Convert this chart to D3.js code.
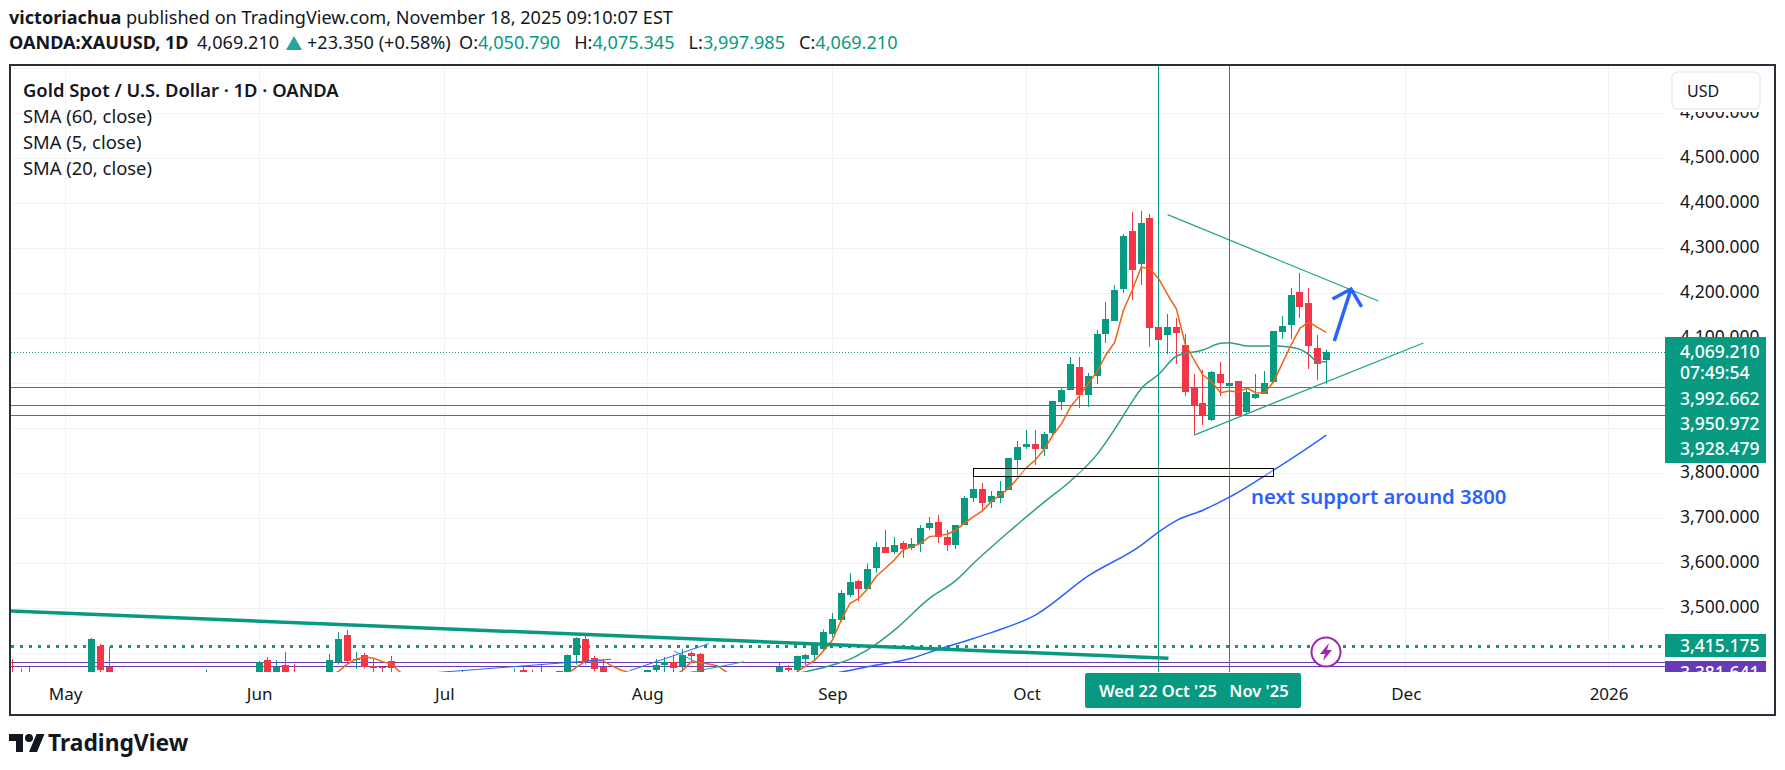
<!DOCTYPE html>
<html>
<head>
<meta charset="utf-8">
<title>XAUUSD</title>
<script src="https://d3js.org/d3.v7.min.js"></script>
<style>
  html, body { margin: 0; background: #fff; }
  svg { display: block; }
  text { font-family: "Noto Sans", sans-serif; fill: #131722; }
</style>
</head>
<body>
<svg id="chart" width="1785" height="770"></svg>
<script>
"use strict";

// Daily bars, numbered from the first bar in the frame. Lows and bodies under the pane are estimates.
const barNos = [0,1,2,9,10,11,22,28,29,30,31,32,36,37,38,39,40,41,42,43,51,57,58,59,60,62,63,64,65,66,67,
  72,73,74,75,76,77,78,87,88,89,90,91,92,93,94,95,96,97,98,99,100,101,102,103,104,105,106,107,108,109,110,
  111,112,113,114,115,116,117,118,119,120,121,122,123,124,125,126,127,128,129,130,131,132,133,134,135,136,
  137,138,139,140,141,142,143,144,145,146,147,148,149];
const opens = [3355,3330,3352,3345,3416.2,3369.6,3335,3340,3385.1,3345,3374,3350,3345,3380.7,3440.7,3385,3396.2,3372,3369.6,3383,3345,3335,3362,3350,3335,3340,3345,3397,3431.7,3389,3370,
  3345,3362,3374,3381.5,3371.5,3400.8,3399.3,3345,3366.6,3363,3387,3396,3409,3443,3474,3529.5,3560.6,3542.9,3589.6,3636.3,3625.2,3645.2,3634,3643,3678.5,3691.9,3658.5,3640.8,3685.2,3745.2,
  3765.1,3736.3,3745.1,3762.9,3829.6,3858.5,3865.1,3854,3889.6,3958.5,3985.1,4036.2,3974,4016.2,4109.6,4138.5,4209.6,4338.5,4265.1,4367.3,4125.1,4107.4,4125.1,4085.1,3989.6,3956.2,3918.5,4020.7,
  3994,4005.1,3936.2,3967.3,3976.2,4002.9,4114,4129.6,4202.9,4178.5,4078.5,4050.79];
const highs = [3387,3366,3370,3434,3420.7,3414,3364,3383,3391.8,3385.1,3402.9,3376,3398.5,3447.3,3451.8,3402.9,3400.7,3387,3371,3394,3362,3366,3374,3364,3376,3361,3397.5,3435.6,3441,3394.7,3385.4,
  3363,3387,3391.6,3397,3410,3404.7,3400.8,3379,3374,3395,3398.4,3422,3453,3489.5,3540.6,3578.4,3562.9,3599.9,3647.4,3674,3658.6,3649.6,3656.3,3685.2,3703,3707.4,3674,3685.2,3749.6,3792.6,
  3778.5,3760.7,3782.9,3834,3871.8,3896.3,3896.3,3891.8,3960.7,3989.6,4058.4,4058.4,4022.9,4118.5,4180.7,4218.5,4331.8,4380.7,4382.9,4376.2,4125.1,4154,4145.1,4109.6,4020.7,4029.6,4027.3,4047.3,
  4003,4005.1,3989.6,4020.7,4027.3,4116.2,4149.6,4211.8,4245.1,4211.8,4107.4,4075.345];
const lows = [3330,3320,3320,3340,3350,3330,3325,3335,3340,3340,3340,3330,3340,3375,3378,3365,3366,3356,3358,3350,3335,3330,3335,3335,3330,3335,3340,3375,3375,3360,3340,
  3340,3358,3358,3358,3360,3380,3340,3340,3359,3356,3374,3386.6,3406,3435.5,3469.5,3525,3516.2,3542.9,3579.3,3623,3620.8,3611.9,3629.6,3625.2,3674,3645.2,3627.4,3631.9,3685.2,3736.3,
  3716.3,3722.9,3734,3762.9,3792.6,3854,3818.5,3838.5,3885.1,3940.7,3985.1,3945.1,3947.4,3998.5,4089.6,4138.5,4200.7,4185.1,4218.5,4080.7,4096,4065.1,4043,3971.8,3885,3907.4,3916.2,3971.8,
  3990,3929.6,3931.8,3965.1,3976.2,4002.9,4098.5,4098.5,4145.1,4031.8,4007.3,3997.985];
const closes = [3340,3352,3335,3431.8,3362,3340,3350,3380.7,3345,3369.6,3345,3340,3385,3431.8,3382.9,3387,3369.6,3368,3367.4,3367.4,3340,3350,3340,3340,3352,3360,3397,3434,3384,3364.6,3345,
  3362,3374,3380,3367.7,3397,3394.7,3345,3370.3,3364,3394,3396,3420.6,3447.3,3476,3534,3558.4,3542.9,3587.3,3636.3,3623,3640.8,3631.9,3643,3678.5,3689.6,3659.3,3640.8,3685.2,3745.2,3765.1,
  3734,3749.6,3760.7,3834,3858.5,3865.1,3854,3887.4,3960.7,3985.1,4042.9,3974,4016.2,4109.6,4142.9,4207.3,4327.3,4251.8,4356.2,4122.9,4096.2,4125.1,4111.8,3980.7,3951.8,3929.6,4025.1,4000.7,
  4000.7,3929.6,3980.7,3976.2,4000.7,4116.2,4127.3,4196.2,4169.6,4082.9,4042.9,4069.21];

// Moving averages at these bars
const sma5Bars = [36,37,38,39,40,41,42,43,44,45,63,64,65,66,67,68,69,70,71,75,76,77,78,79,80,81,82,88,89,90,91,92,93,94,95,96,97,98,99,100,101,102,103,104,105,106,107,108,109,110,111,112,113,114,115,116,117,118,119,120,121,122,123,124,125,126,127,128,129,130,131,132,133,134,135,136,137,138,139,140,141,142,143,144,145,146,147,148,149];
const sma5 = [3350,3360,3376,3387,3391.6,3389,3381.5,3376,3358,3345,3355,3370,3382,3385,3383,3372,3363,3357,3345,3350,3362,3381,3379,3376,3372,3358,3345,3345,3359,3371.8,3385,3405.8,3429.5,3474,3511,3522,3544,3571.9,3588.9,3607.4,3629.6,3637,3644.4,3659.3,3661.5,3664.5,3674,3690,3703.7,3716.3,3737,3751.8,3766.6,3788.8,3812.6,3829.6,3853.3,3885.1,3911,3948.1,3972,3999,4026,4062.9,4091,4162.9,4207.3,4257.7,4254.8,4232,4197,4165,4087,4051.8,4018.5,4003.6,3979.2,3982.9,3980.7,3989.6,3979.2,3978.5,4002.9,4044.4,4085.1,4122.2,4136.2,4124.4,4113.3];
const sma20Bars = [89,93,95,97,100,104,107,109,113,117,120,123,125,127,128,130,132,135,137,138,140,143,145,146,147,148,149];
const sma20 = [3355,3374,3387,3408,3451,3522,3562,3600,3670,3736,3783,3842,3898,3960,3988,4020,4060,4074,4088.8,4090.3,4082.9,4082.9,4080,4075.5,4064.4,4048,4048];
const sma60Bars = [91,93,98,102,105,109,111,116,122,128,130,132,135,138,143,146,149];
const sma60 = [3350,3355,3374,3389,3409,3433,3446,3485,3572,3640,3670,3695,3718,3747,3807,3845,3885];

// Right scale
const priceTicks = [3400,3500,3600,3700,3800,3900,4000,4100,4200,4300,4400,4500,4600,4700];
const priceLabelTicks = [3500,3600,3700,3800,4100,4200,4300,4400,4500,4600];
const levelPrices = [3992.662, 3950.972, 3928.479];
const levelLabels = ["3,992.662", "3,950.972", "3,928.479"];
const lastPrice = 4069.21;
const alertPrice = 3415.175;
const purplePrices = [3381.641, 3372.5];

// Time axis
const monthBars = [6,28,49,72,93,115,158,181];
const monthLabels = ["May","Jun","Jul","Aug","Sep","Oct","Dec","2026"];
const crossBars = [130, 138];

// Drawings, as [bar, price] ends
const bigTrend = [[-0.25,3494],[131.1,3388.9]];
const wedgeTop = [[131,4374.7],[154.9,4182.9]];
const wedgeBottom = [[134,3885],[160,4089.6]];
const arrowStem = [[149.9,4094],[151.8,4209.6]];
const arrowHead = [[149.7,4187.3],[151.8,4209.6],[153,4169.6]];
const supportBox = [[109,3811],[143,3793.3]];
const smallBlue = [[[46.2,3354.4],[67.9,3386.9]],[[70,3361.3],[79,3421.6]]];
const smallGreen = [[[75.9,3354],[83,3381.3]],[[75,3405],[78.3,3374]]];
const supportNote = "next support around 3800";

const W = 1785;
const H = 770;
const pane = {left: 11, right: 1665, top: 66, bottom: 672};
const green = "#089981";
const red = "#f23645";
const blue = "#2962ff";
const purple = "#673ab7";

const svg = d3.select("#chart").attr("viewBox", [0, 0, W, H]);

const x = d3.scaleLinear().domain([0, 181]).range([12.2, 1608.6]);
const y = d3.scaleLinear().domain([3400, 4700]).range([653.3, 68.3]);

svg.append("defs").append("clipPath").attr("id", "paneClip")
  .append("rect")
  .attr("x", pane.left).attr("y", pane.top)
  .attr("width", pane.right - pane.left).attr("height", pane.bottom - pane.top);
svg.select("defs").append("clipPath").attr("id", "scaleClip")
  .append("rect")
  .attr("x", pane.right).attr("y", pane.top)
  .attr("width", 110).attr("height", pane.bottom - pane.top);

// grid
const grid = svg.append("g").attr("stroke", "#f2f2f3").attr("stroke-width", 1);
grid.selectAll(".h").data(priceTicks).join("line")
  .attr("x1", pane.left).attr("x2", pane.right)
  .attr("y1", d => Math.round(y(d)) + 0.5).attr("y2", d => Math.round(y(d)) + 0.5);
grid.selectAll(".v").data(monthBars.concat([138])).join("line")
  .attr("x1", d => Math.floor(x(d)) + 0.5).attr("x2", d => Math.floor(x(d)) + 0.5)
  .attr("y1", pane.top).attr("y2", pane.bottom);

const plot = svg.append("g").attr("clip-path", "url(#paneClip)");

// horizontal levels under the candles
plot.selectAll(".level").data(levelPrices).join("line")
  .attr("x1", pane.left).attr("x2", pane.right)
  .attr("y1", d => Math.round(y(d)) + 0.5).attr("y2", d => Math.round(y(d)) + 0.5)
  .attr("stroke", green).attr("stroke-width", 1);
plot.selectAll(".purple").data(purplePrices).join("line")
  .attr("x1", pane.left).attr("x2", pane.right)
  .attr("y1", d => Math.round(y(d)) + 0.5).attr("y2", d => Math.round(y(d)) + 0.5)
  .attr("stroke", purple).attr("stroke-width", 1);
plot.append("line")
  .attr("x1", pane.left).attr("x2", pane.right)
  .attr("y1", Math.round(y(lastPrice)) + 0.5).attr("y2", Math.round(y(lastPrice)) + 0.5)
  .attr("stroke", green).attr("stroke-width", 1).attr("stroke-dasharray", "1 2");
plot.append("line")
  .attr("x1", pane.left).attr("x2", pane.right)
  .attr("y1", y(alertPrice)).attr("y2", y(alertPrice))
  .attr("stroke", green).attr("stroke-width", 3).attr("stroke-dasharray", "3 6");

// crosshair style vertical lines
plot.selectAll(".cross").data(crossBars).join("line")
  .attr("x1", d => Math.floor(x(d)) + 0.5).attr("x2", d => Math.floor(x(d)) + 0.5)
  .attr("y1", pane.top).attr("y2", pane.bottom)
  .attr("stroke", green).attr("stroke-width", 1);

// candles
const bars = barNos.map((n, i) => ({n: n, o: opens[i], h: highs[i], l: lows[i], c: closes[i]}));
const candle = plot.selectAll(".candle").data(bars).join("g")
  .attr("fill", d => d.c >= d.o ? green : red);
candle.append("rect")
  .attr("x", d => Math.floor(x(d.n)))
  .attr("width", 1)
  .attr("y", d => y(d.h))
  .attr("height", d => y(d.l) - y(d.h));
candle.append("rect")
  .attr("x", d => Math.floor(x(d.n)) - 3)
  .attr("width", 7)
  .attr("y", d => Math.round(y(Math.max(d.o, d.c))))
  .attr("height", d => Math.max(1, Math.round(y(Math.min(d.o, d.c))) - Math.round(y(Math.max(d.o, d.c)))));

// moving averages
const smaLine = d3.line().x(d => x(d[0])).y(d => y(d[1]));
const smoothLine = d3.line().x(d => x(d[0])).y(d => y(d[1])).curve(d3.curveMonotoneX);
plot.append("path").attr("d", smoothLine(d3.zip(sma60Bars, sma60)))
  .attr("fill", "none").attr("stroke", blue).attr("stroke-width", 1.5);
plot.append("path").attr("d", smoothLine(d3.zip(sma20Bars, sma20)))
  .attr("fill", "none").attr("stroke", "#2c9d88").attr("stroke-width", 1.5);
plot.append("path").attr("d", smaLine(d3.zip(sma5Bars, sma5)))
  .attr("fill", "none").attr("stroke", "#ee6411").attr("stroke-width", 1.5);

// drawings
plot.append("path").attr("d", smaLine(bigTrend))
  .attr("fill", "none").attr("stroke", green).attr("stroke-width", 3.5);
plot.append("path").attr("d", smaLine(wedgeTop))
  .attr("fill", "none").attr("stroke", "#2ba391").attr("stroke-width", 1.3);
plot.append("path").attr("d", smaLine(wedgeBottom))
  .attr("fill", "none").attr("stroke", "#2ba391").attr("stroke-width", 1.3);
plot.selectAll(".smallBlue").data(smallBlue).join("path")
  .attr("d", smaLine).attr("fill", "none").attr("stroke", blue).attr("stroke-width", 1);
plot.selectAll(".smallGreen").data(smallGreen).join("path")
  .attr("d", smaLine).attr("fill", "none").attr("stroke", "#2ba391").attr("stroke-width", 1);
plot.append("rect")
  .attr("x", Math.floor(x(supportBox[0][0])) + 0.5).attr("y", Math.round(y(supportBox[0][1])) + 0.5)
  .attr("width", Math.round(x(supportBox[1][0]) - x(supportBox[0][0])))
  .attr("height", Math.round(y(supportBox[1][1]) - y(supportBox[0][1])))
  .attr("fill", "#fffde7").attr("fill-opacity", 0.3)
  .attr("stroke", "#000").attr("stroke-width", 1);
plot.append("path").attr("d", smaLine(arrowStem))
  .attr("fill", "none").attr("stroke", blue).attr("stroke-width", 3.5);
plot.append("path").attr("d", smaLine(arrowHead))
  .attr("fill", "none").attr("stroke", blue).attr("stroke-width", 3.5);
plot.append("text")
  .attr("x", 1251).attr("y", 504)
  .attr("font-size", 20.3).attr("font-weight", 600)
  .style("fill", blue)
  .text(supportNote);

// lightning alert badge
const badge = svg.append("g").attr("transform", "translate(1326,652)");
badge.append("circle").attr("r", 14.5).attr("fill", "#fff").attr("stroke", "#9c27b0").attr("stroke-width", 2);
badge.append("path").attr("d", "M3,-9 L-6,2 L-1,2 L-3,9 L6,-2 L1,-2 Z").attr("fill", "#9c27b0");

// right scale
const yAxis = d3.axisRight(y).tickValues(priceLabelTicks).tickFormat(d3.format(",.3f")).tickSize(0).tickPadding(0);
const yG = svg.append("g").attr("transform", "translate(1680,-1)").call(yAxis);
yG.select(".domain").remove();
yG.selectAll("text").attr("font-size", 17.5).style("font-family", '"Noto Sans", sans-serif').style("fill", "#131722");

// time scale
const xAxis = d3.axisBottom(x).tickValues(monthBars).tickFormat((d, i) => monthLabels[i]).tickSize(0).tickPadding(16);
const xG = svg.append("g").attr("transform", "translate(0," + pane.bottom + ")").call(xAxis);
xG.select(".domain").remove();
xG.selectAll("text").attr("font-size", 17).style("font-family", '"Noto Sans", sans-serif').style("fill", "#131722");

// labels on the scales
const tags = svg.append("g").attr("font-size", 17.5);
tags.append("rect").attr("x", pane.right).attr("y", 337).attr("width", 101).attr("height", 126).attr("fill", green);
tags.append("rect").attr("x", pane.right).attr("y", 634).attr("width", 101).attr("height", 23).attr("fill", green);
const tagRows = [["4,069.210", 352], ["07:49:54", 373]].concat(levelLabels.map((d, i) => [d, 399 + i * 25])).concat([["3,415.175", 646]]);
tags.selectAll(".tag").data(tagRows).join("text")
  .attr("x", 1680).attr("y", d => d[1]).attr("dy", "0.35em")
  .attr("font-weight", 500)
  .style("fill", "#fff")
  .text(d => d[0]);
const purpleTag = svg.append("g").attr("clip-path", "url(#scaleClip)").attr("font-size", 17.5);
purpleTag.append("rect").attr("x", pane.right).attr("y", 661).attr("width", 101).attr("height", 23).attr("fill", purple);
purpleTag.append("text").attr("x", 1680).attr("y", 672.5).attr("dy", "0.35em").attr("font-weight", 500).style("fill", "#fff").text("3,381.641");

const usd = svg.append("g");
usd.append("rect").attr("x", 1670).attr("y", 70).attr("width", 92).attr("height", 42).attr("fill", "#fff");
usd.append("rect").attr("x", 1672).attr("y", 72).attr("width", 88).attr("height", 37).attr("rx", 5)
  .attr("fill", "#fff").attr("stroke", "#e0e3eb");
usd.append("text").attr("x", 1687).attr("y", 91).attr("dy", "0.35em")
  .attr("font-size", 16).text("USD");

// crosshair date labels
const dateTag = svg.append("g").attr("font-size", 16.5).attr("font-weight", 600);
dateTag.append("rect").attr("x", 1085).attr("y", 673).attr("width", 216).attr("height", 35).attr("rx", 2).attr("fill", green);
dateTag.append("text").attr("x", 1158).attr("y", 691).attr("dy", "0.35em").attr("text-anchor", "middle").style("fill", "#fff").text("Wed 22 Oct '25");
dateTag.append("text").attr("x", 1259).attr("y", 691).attr("dy", "0.35em").attr("text-anchor", "middle").style("fill", "#fff").text("Nov '25");

// frame
svg.append("rect").attr("x", 10).attr("y", 65).attr("width", 1765).attr("height", 650)
  .attr("fill", "none").attr("stroke", "#2a2e39").attr("stroke-width", 2);

// legend
const legend = svg.append("g").attr("font-size", 18.4);
legend.append("text").attr("x", 23).attr("y", 97).attr("font-weight", 600).text("Gold Spot / U.S. Dollar · 1D · OANDA");
legend.selectAll(".sma").data(["SMA (60, close)", "SMA (5, close)", "SMA (20, close)"]).join("text")
  .attr("x", 23).attr("y", (d, i) => 123 + i * 26).text(d => d);

// header
const head = svg.append("g").attr("font-size", 18.1);
const line1 = head.append("text").attr("x", 9).attr("y", 24);
line1.append("tspan").attr("font-weight", 700).text("victoriachua");
line1.append("tspan").text(" published on TradingView.com, November 18, 2025 09:10:07 EST");
const line2 = head.append("text").attr("x", 9).attr("y", 49);
line2.append("tspan").attr("font-weight", 700).text("OANDA:XAUUSD, 1D");
line2.append("tspan").attr("x", 197).text("4,069.210");
line2.append("tspan").attr("x", 307).text("+23.350 (+0.58%)");
const ohlc = [["O:", "4,050.790", 459], ["H:", "4,075.345", 0], ["L:", "3,997.985", 0], ["C:", "4,069.210", 0]];
ohlc.forEach((d, i) => {
  const lab = line2.append("tspan").text(d[0]);
  if (i == 0) lab.attr("x", d[2]); else lab.attr("dx", 14);
  line2.append("tspan").style("fill", green).text(d[1]);
});
head.append("path").attr("d", "M294,36 L302,50 L286,50 Z").attr("fill", "#26a69a");

// logo
const logo = svg.append("g").attr("transform", "translate(9,730)");
logo.append("path").attr("d", "M14 22H7V11H0V4h14v18zM28 22h-8l7.5-18h8L28 22z").attr("fill", "#131722");
logo.append("circle").attr("cx", 20).attr("cy", 8).attr("r", 4).attr("fill", "#131722");
svg.append("text").attr("x", 48).attr("y", 751).attr("font-size", 22.8).attr("font-weight", 700).text("TradingView");
</script>
</body>
</html>
